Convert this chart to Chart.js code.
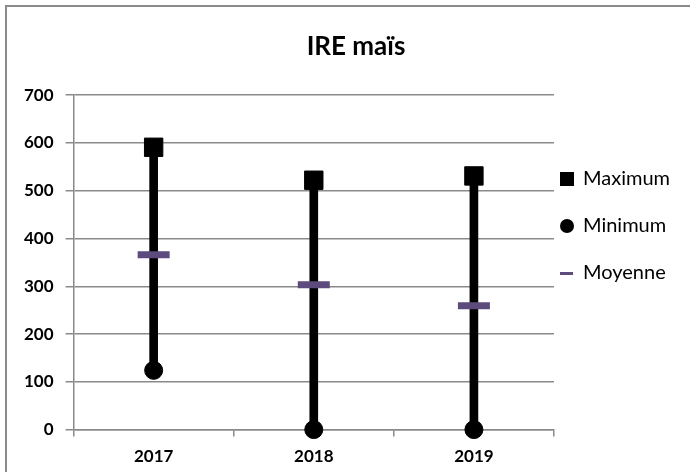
<!DOCTYPE html>
<html>
<head>
<meta charset="utf-8">
<script src="https://cdn.jsdelivr.net/npm/chart.js@4.4.1/dist/chart.umd.min.js"></script>
<style>
  html, body { margin: 0; padding: 0; background: #fff; overflow: hidden; }
  #frame { position: absolute; left: 5px; top: 5px; width: 700px; height: 480px; border: 2px solid #8a8a8a; }
  #wrap { position: absolute; left: 0; top: 0; width: 690px; height: 472px; }
</style>
</head>
<body>
<div id="frame"></div>
<div id="wrap"><canvas id="ireChart"></canvas></div>
<script>
// données
const annees = ["2017", "2018", "2019"];
const maximum = [591, 522, 531];
const minimum = [124, 0, 0];
const moyenne = [366, 303, 259];
const graduations = [0, 100, 200, 300, 400, 500, 600, 700];

const gris = "#8a8a8a";
const violet = "#5e4b7d";

// barres flottantes min -> max (les tiges noires)
const tiges = annees.map((a, i) => [minimum[i], maximum[i]]);

Chart.defaults.font.family = "Lato, 'Open Sans', sans-serif";
Chart.defaults.color = "#000";

// petits symboles pour la légende
function symbole(w, h, dessin) {
  const c = document.createElement("canvas");
  c.width = w;
  c.height = h;
  dessin(c.getContext("2d"));
  return c;
}
const symCarre = symbole(14, 14, (g) => {
  g.fillStyle = "#000";
  g.fillRect(0, 0, 14, 14);
});
const symRond = symbole(14, 14, (g) => {
  g.fillStyle = "#000";
  g.beginPath();
  g.arc(7, 7, 7, 0, Math.PI * 2);
  g.fill();
});
const symTrait = symbole(13, 3, (g) => {
  g.fillStyle = violet;
  g.fillRect(0, 0, 13, 3);
});

// décale la légende pour coller au modèle
const placeLegende = {
  id: "placeLegende",
  afterLayout(chart) {
    const lg = chart.legend;
    const dx = -20;
    const dy = 142 - lg.top;
    lg.left += dx;
    lg.right += dx;
    lg.top += dy;
    lg.bottom += dy;
  },
};

const ctx = document.getElementById("ireChart").getContext("2d");
const ireChart = new Chart(ctx, {
  type: "bar",
  data: {
    labels: annees,
    datasets: [
      {
        label: "Maximum",
        type: "line",
        data: maximum,
        showLine: false,
        pointStyle: "rect",
        pointRadius: 13,
        pointHoverRadius: 13,
        backgroundColor: "#000",
        borderColor: "#000",
        borderWidth: 1,
        clip: false,
        order: 1,
      },
      {
        label: "Minimum",
        type: "line",
        data: minimum,
        showLine: false,
        pointStyle: "circle",
        pointRadius: 9,
        pointHoverRadius: 9,
        backgroundColor: "#000",
        borderColor: "#000",
        borderWidth: 1,
        clip: false,
        order: 2,
      },
      {
        label: "Moyenne",
        type: "line",
        data: moyenne,
        showLine: false,
        pointStyle: "line",
        pointRadius: 16,
        pointHoverRadius: 16,
        backgroundColor: violet,
        borderColor: violet,
        borderWidth: 7,
        clip: false,
        order: 3,
      },
      {
        label: "Amplitude",
        data: tiges,
        backgroundColor: "#000",
        barThickness: 8,
        order: 4,
      },
    ],
  },
  options: {
    responsive: true,
    maintainAspectRatio: false,
    animation: false,
    layout: {
      padding: { left: 12, right: -10, top: 0, bottom: -5 },
    },
    scales: {
      x: {
        offset: true,
        grid: {
          offset: true,
          drawOnChartArea: false,
          drawTicks: true,
          tickLength: 7,
          color: gris,
          lineWidth: 1.5,
        },
        border: { color: gris, width: 1.5 },
        ticks: { font: { size: 17, weight: "bold" }, padding: 10 },
      },
      y: {
        min: 0,
        max: 700,
        afterBuildTicks: (axis) => {
          axis.ticks = graduations.map((v) => ({ value: v }));
        },
        grid: { color: gris, lineWidth: 1.5, tickLength: 8 },
        border: { color: gris, width: 1.5 },
        ticks: { font: { size: 17, weight: "bold" }, padding: 12 },
      },
    },
    plugins: {
      tooltip: { enabled: false },
      title: {
        display: true,
        text: "IRE maïs",
        font: { size: 26, weight: "bold" },
        color: "#000",
        padding: { top: 31, bottom: 33 },
      },
      legend: {
        position: "right",
        align: "start",
        labels: {
          usePointStyle: true,
          boxWidth: 12,
          boxHeight: 12,
          padding: 27,
          font: { size: 20 },
          filter: (item) => item.datasetIndex < 3,
          generateLabels: (chart) => {
            const items = Chart.defaults.plugins.legend.labels.generateLabels(chart);
            const syms = [symCarre, symRond, symTrait];
            items.forEach((it) => {
              if (syms[it.datasetIndex]) it.pointStyle = syms[it.datasetIndex];
            });
            return items;
          },
        },
      },
    },
  },
  plugins: [placeLegende],
});
</script>
</body>
</html>
